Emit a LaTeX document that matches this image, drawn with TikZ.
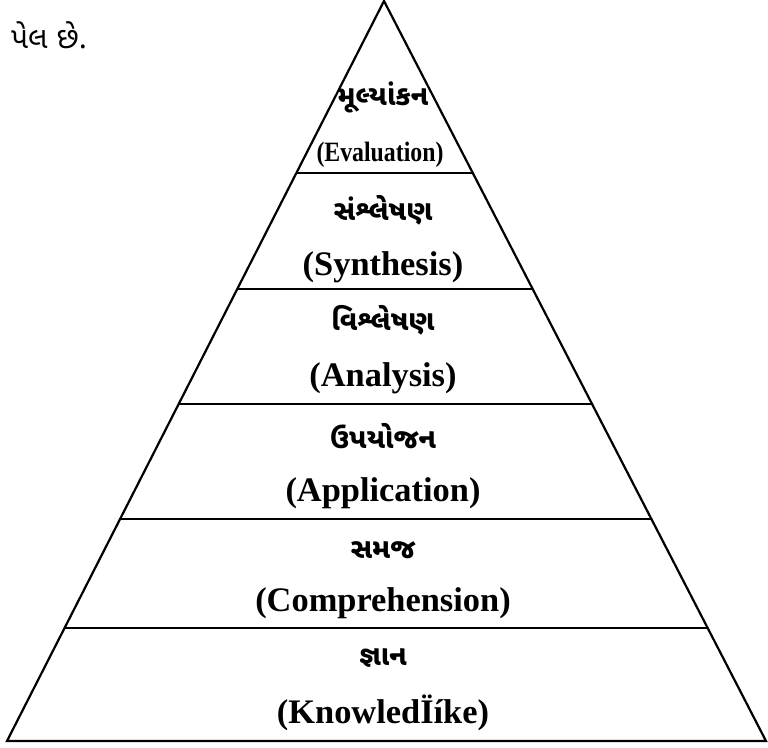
\documentclass[tikz,border=0pt]{standalone}
\usepackage{fontspec}
\setmainfont{Liberation Serif}
\newfontfamily\gujfont[Script=Gujarati]{Noto Sans Gujarati UI}
\usetikzlibrary{calc}

\begin{document}
\begin{tikzpicture}[x=0.5pt,y=-0.5pt,
  guj/.style={font=\gujfont\bfseries\fontsize{14}{17}\selectfont},
  eng/.style={font=\bfseries\fontsize{17.2}{20}\selectfont},
  side/.style={line width=1.1pt,line join=miter},
  level/.style={line width=1.3pt}]
\useasboundingbox (0,0) rectangle (768,748);
\node[font=\gujfont\fontsize{15}{18}\selectfont,anchor=west] (note) at (4,35) {પેલ છે.};
\coordinate (apex) at (384,1);
\coordinate (bl)   at (7,741);
\coordinate (br)   at (766,741);
\draw[side] (bl) -- (apex) -- (br) -- cycle;
\foreach \y in {173,289,404,519,628}{
  \pgfmathsetmacro\f{(\y-1)/740}
  \draw[level] ($(apex)!\f!(bl)$) -- ($(apex)!\f!(br)$);
}
\node[guj] (eval-gu)  at (383,97)  {મૂલ્યાંકન};
\node[eng] (eval-en)  at (380,155) {\fontsize{14}{16}\selectfont\scalebox{0.85}[1]{(Evaluation)}};
\node[guj] (synth-gu) at (383,210) {સંશ્લેષણ};
\node[eng] (synth-en) at (383,267) {(Synthesis)};
\node[guj] (anal-gu)  at (383,320) {વિશ્લેષણ};
\node[eng] (anal-en)  at (383,378) {(Analysis)};
\node[guj] (appl-gu)  at (383,436) {ઉપયોજન};
\node[eng] (appl-en)  at (383,493) {(Application)};
\node[guj] (comp-gu)  at (383,550) {સમજ};
\node[eng] (comp-en)  at (383,603) {(Comprehension)};
\node[guj] (know-gu)  at (383,658) {જ્ઞાન};
\node[eng] (know-en)  at (383,713) {(KnowledÏíke)};
\end{tikzpicture}
\end{document}
